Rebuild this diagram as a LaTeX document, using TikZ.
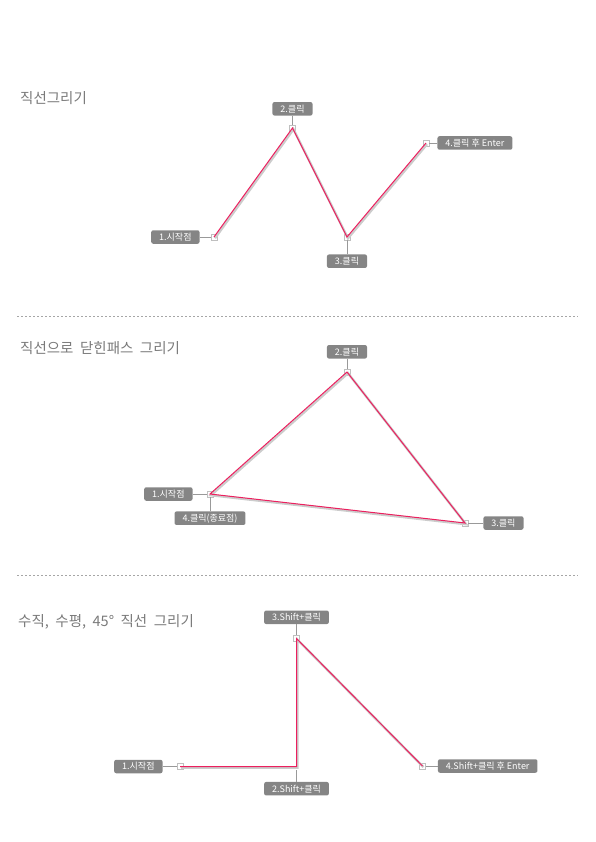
\documentclass[tikz,border=0pt]{standalone}
\usepackage{fontspec}
\setmainfont{Noto Sans CJK KR}
\usetikzlibrary{positioning}

\definecolor{tagfill}{HTML}{858585}
\definecolor{pathred}{HTML}{EC1F5E}
\definecolor{titlegray}{HTML}{7A7A7A}
\newcommand\headfont{\fontsize{14.5}{16}\selectfont\spaceskip=0.45em\relax}

\begin{document}
\begin{tikzpicture}[x=1pt,y=-1pt,
    tag/.style={fill=tagfill, text=white, rounded corners=2pt, font=\fontsize{9}{10}\selectfont, inner xsep=8pt, inner ysep=0pt, minimum height=13.5pt},
    pt/.style={draw=gray!50, fill=white, minimum size=6pt, inner sep=0pt, line width=0.5pt},
    lead/.style={draw=gray!80, line width=0.6pt},
    title/.style={anchor=base west, text=titlegray, font=\headfont, inner sep=0pt},
    sep/.style={gray!70, dash pattern=on 2pt off 2pt, line width=0.5pt},
    shade/.style={preaction={draw=gray!40, line width=2.4pt, transform canvas={shift={(1pt,-1.2pt)}}}},
    stroke/.style={draw=pathred, line width=1pt, line join=miter}]

    \useasboundingbox (0,0) rectangle (595,842);

    % separators
    \draw[sep] (17,316) -- (578,316);
    \draw[sep] (17,575.5) -- (578,575.5);

    % 1
    \node[title] (t1) at (20,104) {직선그리기};
    \node[pt] (a1) at (214,237) {};
    \node[pt] (a2) at (292.5,128) {};
    \node[pt] (a3) at (347,237) {};
    \node[pt] (a4) at (426,143) {};
    \node[tag, left=11pt of a1] (l1) {1.시작점};
    \node[tag, above=9pt of a2] (l2) {2.클릭};
    \node[tag, below=14pt of a3] (l3) {3.클릭};
    \node[tag, right=8pt of a4] (l4) {4.클릭 후 Enter};
    \draw[lead] (l1) -- (a1);
    \draw[lead] (l2) -- (a2);
    \draw[lead] (l3) -- (a3);
    \draw[lead] (l4) -- (a4);
    \draw[shade, stroke] (a1.center) -- (a2.center) -- (a3.center) -- (a4.center);

    % 2
    \node[title] (t2) at (20,353) {직선으로 닫힌패스 그리기};
    \node[pt] (b1) at (210,494) {};
    \node[pt] (b2) at (347,372) {};
    \node[pt] (b3) at (465,523) {};
    \node[tag, left=14pt of b1] (m1) {1.시작점};
    \node[tag, above=10pt of b2] (m2) {2.클릭};
    \node[tag, right=15pt of b3] (m3) {3.클릭};
    \node[tag, below=14pt of b1] (m4) {4.클릭(종료점)};
    \draw[lead] (m1) -- (b1);
    \draw[lead] (m2) -- (b2);
    \draw[lead] (m3) -- (b3);
    \draw[lead] (m4) -- (b1);
    \draw[shade, stroke] (b1.center) -- (b2.center) -- (b3.center) -- cycle;

    % 3
    \node[title] (t3) at (18,626) {수직, 수평, 45° 직선 그리기};
    \node[pt] (c1) at (180,766.5) {};
    \node[pt, draw=none, fill=none] (c2) at (296.5,766.5) {};
    \node[pt] (c3) at (296.5,638.5) {};
    \node[pt] (c4) at (422.5,766) {};
    \node[tag, left=14pt of c1] (n1) {1.시작점};
    \node[tag, below=12pt of c2] (n2) {2.Shift+클릭};
    \node[tag, above=11pt of c3] (n3) {3.Shift+클릭};
    \node[tag, right=12pt of c4] (n4) {4.Shift+클릭 후 Enter};
    \draw[lead] (n1) -- (c1);
    \draw[lead] (n2) -- (c2);
    \draw[lead] (n3) -- (c3);
    \draw[lead] (n4) -- (c4);
    \draw[shade, stroke] (c1.center) -- (c2.center) -- (c3.center) -- (c4.center);
\end{tikzpicture}
\end{document}
